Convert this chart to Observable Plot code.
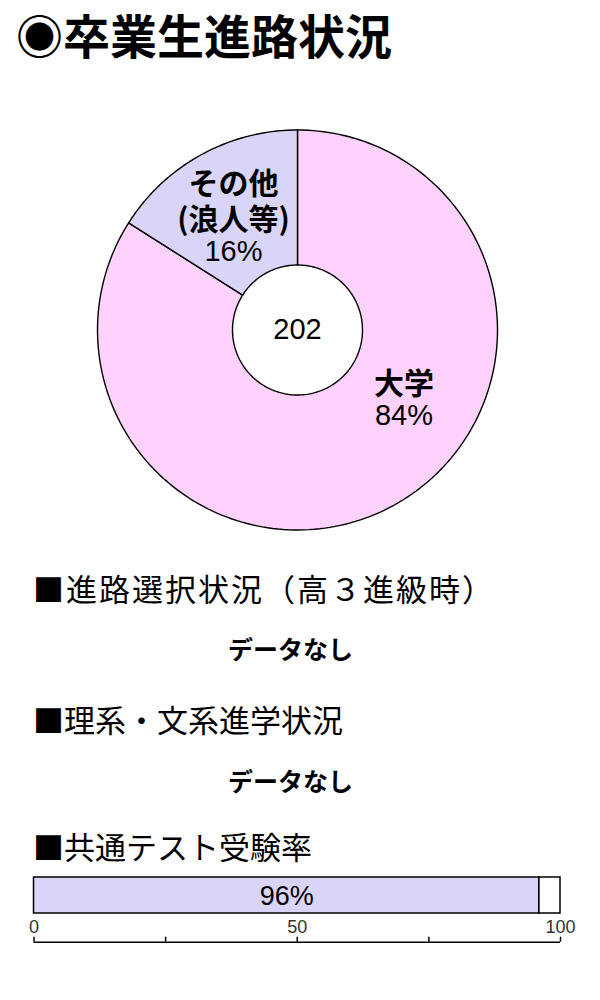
<!DOCTYPE html>
<html lang="ja">
<head>
<meta charset="utf-8">
<script src="https://cdn.jsdelivr.net/npm/d3@7"></script>
<script src="https://cdn.jsdelivr.net/npm/@observablehq/plot@0.6"></script>
<style>
  html, body { margin: 0; padding: 0; background: #fff; }
  body { width: 600px; height: 1000px; position: relative; overflow: hidden;
         font-family: "Noto Sans CJK JP", "Noto Sans", sans-serif; color: #000; }
  .abs { position: absolute; white-space: nowrap; }
  .title { left: 16px; top: 10px; font-size: 47px; line-height: 47px; font-weight: 700; }
  .head { left: 33px; font-size: 31px; line-height: 31px; font-weight: 400; }
  .head.w { letter-spacing: 2px; }
  .nodata { left: 228px; font-size: 25px; line-height: 25px; font-weight: 700; }
  #pie, #bar, #axis { position: absolute; left: 0; }
  #pie { top: 120px; }
  #bar { top: 860px; }
  #axis { top: 900px; }
</style>
</head>
<body>
<script>
// ---- data ----
const title = "◉卒業生進路状況";
const pieCategories = ["大学", "その他"];
const pieLabelNames = ["大学", "その他\n(浪人等)"];
const pieShares = [84, 16];
const pieTotal = 202;
const pieColors = ["#ffd2fe", "#d9d5f8"];

const headings = ["■進路選択状況（高３進級時）", "■理系・文系進学状況", "■共通テスト受験率"];
const noDataText = "データなし";

const examCategories = ["受験", "未受験"];
const examValues = [96, 4];
const examColors = ["#d9d5f8", "#ffffff"];
const axisTicks = [0, 25, 50, 75, 100];
const axisTickLabels = [0, 50, 100];

// ---- layout helpers (styles only) ----
const headTops = [572, 703, 829.5];
const headClass = ["head w", "head", "head"];
const noDataTops = [635.5, 767.5];
const labelShift = [{dx: 53.5, dy: -44}, {dx: -11, dy: -33}];
const nameLine = 36;   // px between name lines
const pctGap = 33;     // px from last name line to percent line

function addDiv(cls, text, top) {
  const d = document.createElement("div");
  d.className = "abs " + cls;
  d.textContent = text;
  if (top != null) d.style.top = top + "px";
  document.body.appendChild(d);
}
addDiv("title", title);
headings.forEach((h, i) => addDiv(headClass[i], h, headTops[i]));
noDataTops.forEach(t => addDiv("nodata", noDataText, t));

// ---- donut ----
const rows = pieCategories.map((c, i) => ({name: c, label: pieLabelNames[i], share: pieShares[i], color: pieColors[i]}));
const arcs = d3.pie().sort(null).value(d => d.share)(rows);
const innerR = 0.325;
function ring(a0, a1) {
  const n = Math.max(2, Math.ceil((a1 - a0) / (2 * Math.PI) * 240) + 1);
  const pts = [];
  for (let k = 0; k < n; k++) {
    const a = a0 + (a1 - a0) * k / (n - 1);
    pts.push({x: Math.sin(a), y: Math.cos(a)});
  }
  for (let k = n - 1; k >= 0; k--) {
    const a = a0 + (a1 - a0) * k / (n - 1);
    pts.push({x: innerR * Math.sin(a), y: innerR * Math.cos(a)});
  }
  return pts;
}
const labelR = 0.55;
const pieMarks = [];
arcs.forEach(a => {
  pieMarks.push(Plot.line(ring(a.startAngle, a.endAngle), {
    x: "x", y: "y", fill: a.data.color, stroke: "#000", strokeWidth: 1.4, curve: "linear-closed"
  }));
});
arcs.forEach((a, i) => {
  const mid = (a.startAngle + a.endAngle) / 2;
  const p = [{x: labelR * Math.sin(mid), y: labelR * Math.cos(mid), name: a.data.label, pct: a.data.share + "%"}];
  const s = labelShift[i];
  const nLines = a.data.label.split("\n").length;
  pieMarks.push(Plot.text(p, {x: "x", y: "y", text: "name", lineAnchor: "middle", lineHeight: nameLine / 30,
    fontSize: 30, fontWeight: 700, fill: "#000", dx: s.dx, dy: s.dy,
    fontFamily: "'Noto Sans CJK JP', sans-serif"}));
  pieMarks.push(Plot.text(p, {x: "x", y: "y", text: "pct", lineAnchor: "middle",
    fontSize: 29, fontWeight: 400, fill: "#000", dx: s.dx, dy: s.dy + (nLines - 1) * nameLine / 2 + pctGap,
    fontFamily: "'Liberation Sans', 'Noto Sans CJK JP', sans-serif"}));
});
pieMarks.push(Plot.text([pieTotal], {x: () => 0, y: () => 0, text: d => String(d),
  fontSize: 29, fill: "#000", fontFamily: "'Liberation Sans', sans-serif", lineAnchor: "middle"}));

const pie = Plot.plot({
  width: 600, height: 420,
  margin: 0,
  x: {domain: [-1, 1], range: [97, 497]},
  y: {domain: [-1, 1], range: [409.5, 9.5]},
  axis: null,
  style: {background: "transparent", overflow: "visible"},
  marks: pieMarks
});
pie.id = "pie";
document.body.appendChild(pie);

// ---- exam bar ----
const examRows = examCategories.map((c, i) => ({cat: c, value: examValues[i]}));
const bar = Plot.plot({
  width: 600, height: 60,
  marginLeft: 33.5, marginRight: 40, marginTop: 17, marginBottom: 7,
  x: {domain: [0, 100], axis: null},
  color: {domain: examCategories, range: examColors},
  style: {background: "transparent", overflow: "visible"},
  marks: [
    Plot.barX(examRows, {x: "value", fill: "cat", stroke: "#000", strokeWidth: 1.5}),
    Plot.text(examRows, Plot.stackX({x: "value", text: d => d.cat === examCategories[0] ? d.value + "%" : "",
      frameAnchor: "middle", dy: 1, fontSize: 27, fill: "#000", fontFamily: "'Liberation Sans', sans-serif"}))
  ]
});
bar.id = "bar";
document.body.appendChild(bar);

const axis = Plot.plot({
  width: 600, height: 45,
  marginLeft: 33.5, marginRight: 40, marginTop: 0, marginBottom: 0,
  x: {domain: [0, 100], axis: null},
  y: {domain: [0, 1], range: [41.7, 36.7], axis: null},
  style: {background: "transparent", overflow: "visible"},
  marks: [
    Plot.ruleY([0], {x1: 0, x2: 100, stroke: "#000", strokeWidth: 1.5}),
    Plot.ruleX(axisTicks, {x: d => d, y1: 0, y2: 1, stroke: "#000", strokeWidth: 1.5}),
    Plot.text(axisTickLabels, {x: d => d, y: () => 1, text: d => String(d), dy: -10, lineAnchor: "middle",
      fontSize: 18, fill: "#333", fontWeight: 300, fontFamily: "'Liberation Sans', sans-serif"})
  ]
});
axis.id = "axis";
document.body.appendChild(axis);
</script>
</body>
</html>
